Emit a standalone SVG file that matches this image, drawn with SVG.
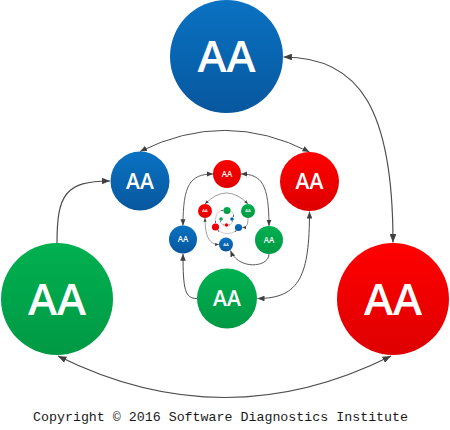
<svg xmlns="http://www.w3.org/2000/svg" width="450" height="430" viewBox="0 0 450 430">
<defs>
<linearGradient id="gb" x1="0" y1="0" x2="0" y2="1"><stop offset="0" stop-color="#0a72c2"/><stop offset="1" stop-color="#07579e"/></linearGradient>
<linearGradient id="gr" x1="0" y1="0" x2="0" y2="1"><stop offset="0" stop-color="#ff0000"/><stop offset="1" stop-color="#de0000"/></linearGradient>
<linearGradient id="gg" x1="0" y1="0" x2="0" y2="1"><stop offset="0" stop-color="#00b050"/><stop offset="1" stop-color="#009944"/></linearGradient>
<marker id="a" viewBox="0 0 10 8" refX="10" refY="4" markerWidth="7" markerHeight="5.6" orient="auto-start-reverse" markerUnits="strokeWidth"><path d="M0,0 L10,4 L0,8 z" fill="#404040"/></marker>
</defs>
<style>
.b{fill:url(#gb)} .r{fill:url(#gr)} .g{fill:url(#gg)}
.t{fill:#fff;font-family:"Open Sans","Liberation Sans",sans-serif;font-weight:600;text-anchor:middle}
.c{fill:none;stroke:#4d4d4d}
.d{marker-start:url(#a);marker-end:url(#a)}
.s{marker-end:url(#a)}
.l1{stroke-width:1.2}.l2{stroke-width:1}.l3{stroke-width:0.9}.l4{stroke-width:0.55}.l5{stroke-width:0.3}.l6{stroke-width:0.2;stroke:#000}
.cp{font-family:"Liberation Mono","DejaVu Sans Mono",monospace;font-size:13.3px;fill:#1a1a1a}
</style>
<g id="connectors">
<path class="c l1 d" d="M283.5,57 C360,57 393,110 393,242.5"/>
<path class="c l1 d" d="M58,356 Q225,439 391,356"/>
<path class="c l1 s" d="M57,243 C57,195 65,181 110,181"/>
<path class="c l2 d" d="M140,151.5 Q225,109 309.5,152"/>
<path class="c l2 d" d="M309.5,211.5 C309.5,275 300,298.5 257.5,298.5"/>
<path class="c l2 s" d="M197,298.5 C185,298.5 183,290 183,253.8"/>
<path class="c l3 d" d="M213,174 C190,174 183,185 183,225.5"/>
<path class="c l3 d" d="M241,174 C262,174 269,185 269,226"/>
<path class="c l3 s" d="M269,254 C269,268 238,270 230.5,250.5"/>
<path class="c l4 d" d="M205,204 Q226.5,182 248,204"/>
<path class="c l4 d" d="M205,218 C205,238 210,244.5 219,244.5"/>
<path class="c l4 s" d="M248,218 C248,226 246,227.5 242.2,227.5"/>
<path class="c l5 d" d="M223.4,210.5 C217,210.5 215.5,214 215.5,223.4"/>
<path class="c l5 d" d="M217.5,230.2 Q227,237 236.5,230.5"/>
<path class="c l5 s" d="M230.6,211 C234,212 234,215 232.8,217.3"/>
<path class="c l6 d" d="M220.6,220.8 Q221,225 224.7,225"/>
<path class="c l6 d" d="M228.3,225 Q232,225 232.2,220.8"/>
</g>
<g id="n1-blue"><circle class="b" cx="226.5" cy="56.5" r="56.5"/><text class="t" x="226.5" y="72.2" font-size="44">AA</text></g>
<g id="n1-green"><circle class="g" cx="57" cy="299" r="56"/><text class="t" x="57" y="314.7" font-size="44">AA</text></g>
<g id="n1-red"><circle class="r" cx="393" cy="299" r="56"/><text class="t" x="393" y="314.7" font-size="44">AA</text></g>
<g id="n2-blue"><circle class="b" cx="140" cy="181" r="29.5"/><text class="t" x="140" y="188.5" font-size="21">AA</text></g>
<g id="n2-red"><circle class="r" cx="309.5" cy="181.5" r="29.5"/><text class="t" x="309.5" y="189" font-size="21">AA</text></g>
<g id="n2-green"><circle class="g" cx="227" cy="298.5" r="30"/><text class="t" x="227" y="306" font-size="21">AA</text></g>
<g id="n3-red"><circle class="r" cx="227" cy="174" r="14"/><text class="t" x="227" y="176.9" font-size="8">AA</text></g>
<g id="n3-blue"><circle class="b" cx="183" cy="239.5" r="14"/><text class="t" x="183" y="242.4" font-size="8">AA</text></g>
<g id="n3-green"><circle class="g" cx="269" cy="240" r="14"/><text class="t" x="269" y="242.9" font-size="8">AA</text></g>
<g id="n4-red"><circle class="r" cx="205" cy="211" r="7"/><text class="t" x="205" y="212.4" font-size="4">AA</text></g>
<g id="n4-green"><circle class="g" cx="248" cy="211" r="7"/><text class="t" x="248" y="212.4" font-size="4">AA</text></g>
<g id="n4-blue"><circle class="b" cx="226" cy="244.5" r="7"/><text class="t" x="226" y="245.9" font-size="4">AA</text></g>
<g id="n5-green"><circle class="g" cx="227" cy="210.5" r="3.6"/></g>
<g id="n5-red"><circle class="r" cx="215.5" cy="227" r="3.6"/></g>
<g id="n5-blue"><circle class="b" cx="238.5" cy="227.5" r="3.6"/></g>
<g id="n6-green"><circle class="g" cx="221" cy="219" r="1.8"/></g>
<g id="n6-blue"><circle class="b" cx="232" cy="219" r="1.8"/></g>
<g id="n6-red"><circle class="r" cx="226.5" cy="225" r="1.8"/></g>
<text class="cp" x="33" y="421">Copyright © 2016 Software Diagnostics Institute</text>
</svg>
